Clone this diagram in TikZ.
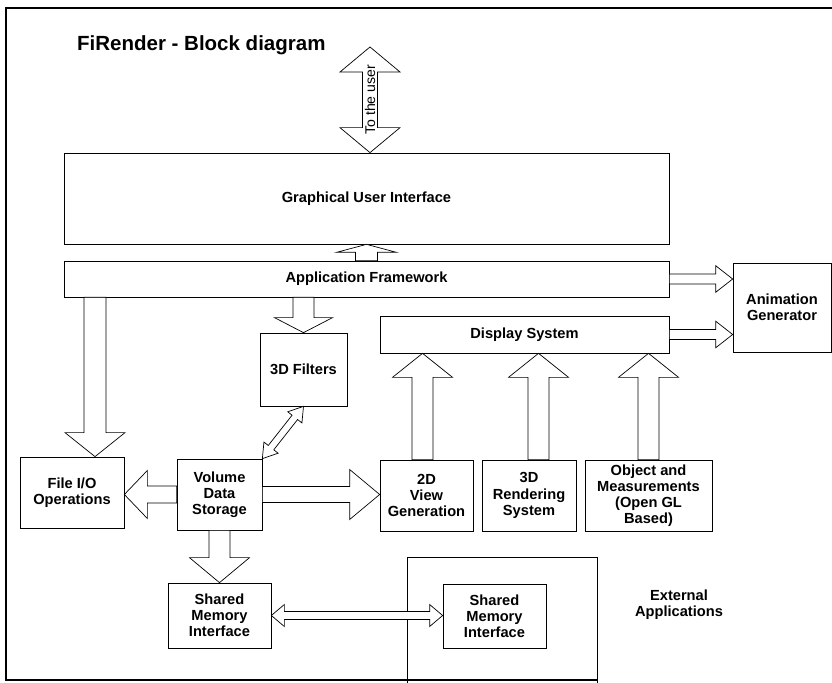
\documentclass[tikz,border=0pt]{standalone}
\usepackage{fontspec}
\setmainfont{Liberation Sans}
\usetikzlibrary{calc}

% hollow block arrow: [opts]{from}{to}{shaft half width}{head half width}{head length}
\newcommand{\blockarrow}[6][]{%
  \coordinate (ba-s) at #2;
  \coordinate (ba-t) at #3;
  \coordinate (ba-c) at ($(ba-t)!#6!(ba-s)$);
  \draw[blk,#1] ($(ba-s)!#4!90:(ba-t)$) -- ($(ba-c)!#4!-90:(ba-s)$)
    -- ($(ba-c)!#5!-90:(ba-s)$) -- (ba-t) -- ($(ba-c)!#5!90:(ba-s)$)
    -- ($(ba-c)!#4!90:(ba-s)$) -- ($(ba-s)!#4!-90:(ba-t)$) -- cycle;
}
% same, with a head at both ends
\newcommand{\dblarrow}[6][]{%
  \coordinate (ba-s) at #2;
  \coordinate (ba-t) at #3;
  \coordinate (ba-a) at ($(ba-s)!#6!(ba-t)$);
  \coordinate (ba-b) at ($(ba-t)!#6!(ba-s)$);
  \draw[blk,#1] (ba-s) -- ($(ba-a)!#5!-90:(ba-t)$) -- ($(ba-a)!#4!-90:(ba-t)$)
    -- ($(ba-b)!#4!90:(ba-s)$) -- ($(ba-b)!#5!90:(ba-s)$) -- (ba-t)
    -- ($(ba-b)!#5!-90:(ba-s)$) -- ($(ba-b)!#4!-90:(ba-s)$)
    -- ($(ba-a)!#4!90:(ba-t)$) -- ($(ba-a)!#5!90:(ba-t)$) -- cycle;
}

\begin{document}
\begin{tikzpicture}[x=0.03cm, y=-0.03cm,
  box/.style={draw, fill=white, line width=0.6pt, align=center, inner sep=0pt,
              font=\bfseries\fontsize{12.5}{13.8}\selectfont},
  blk/.style={draw, fill=white, line width=0.6pt, line join=miter},
  frame/.style={draw, line width=1.2pt},
  heading/.style={anchor=west, font=\bfseries\fontsize{17.5}{20}\selectfont},
  note/.style={align=center, font=\bfseries\fontsize{12.5}{13.8}\selectfont}
]
\useasboundingbox (0,0) rectangle (832,683);
\clip (0,0) rectangle (832,683);

\node[heading] (title) at (73,45) {FiRender - Block diagram};

% blocks
\node[box, minimum width=18.15cm, minimum height=2.73cm] (gui)  at (366.5,198.5) {Graphical User Interface};
\node[box, minimum width=18.15cm, minimum height=1.08cm] (fw)   at (366.5,279)   {Application Framework};
\node[box, minimum width=2.94cm,  minimum height=2.67cm] (anim) at (782,307.5)   {Animation\\Generator};
\node[box, minimum width=8.67cm,  minimum height=1.11cm] (disp) at (524.5,334.5) {Display System};
\node[box, minimum width=2.61cm,  minimum height=2.19cm] (filt) at (303.5,369.5) {3D Filters};
\node[box, minimum width=3.12cm,  minimum height=2.13cm] (fio)  at (72,492.5)    {File I/O\\Operations};
\node[box, minimum width=2.55cm,  minimum height=2.13cm] (vol)  at (219.5,494.5) {Volume\\Data\\Storage};
\node[box, minimum width=2.79cm,  minimum height=2.13cm] (view) at (426.5,495.5) {2D\\View\\Generation};
\node[box, minimum width=2.82cm,  minimum height=2.13cm] (rend) at (529,495.5)   {3D\\Rendering\\System};
\node[box, minimum width=3.81cm,  minimum height=2.13cm] (obj)  at (648.5,495.5) {Object and\\Measurements\\(Open GL\\Based)};
\node[box, fill=none, minimum width=5.7cm, minimum height=4.29cm] (ext) at (502,628.5) {};
\node[box, minimum width=3.09cm,  minimum height=1.95cm] (smi)  at (219.5,615.5) {Shared\\Memory\\Interface};
\node[box, minimum width=3.09cm,  minimum height=1.92cm] (smr)  at (494.5,616)   {Shared\\Memory\\Interface};
\node[note] (extlbl) at (679,605) {External\\Applications};

\draw[frame] (832,8) -- (6,8) -- (6,680) -- (597,680);

% arrow axes
\coordinate (usr) at (370,47);
\coordinate (fioax) at ($(fio.north)+(23,0)$);
\coordinate (viewax) at ($(view.north)+(-4,0)$);
\coordinate (rendax) at ($(rend.north)+(9.5,0)$);

% block arrows
\dblarrow{(usr)}{(gui.north -| usr)}{0.225cm}{0.9cm}{0.75cm}
\node[rotate=90, font=\fontsize{12}{14}\selectfont] (usrtxt) at ($(usr)!0.5!(gui.north -| usr)$) {To the user};
\blockarrow{(fw.north)}{(gui.south)}{0.33cm}{0.9cm}{0.24cm}
\blockarrow{(fw.east)}{(anim.west |- fw.east)}{0.15cm}{0.4cm}{0.51cm}
\blockarrow{(disp.east)}{(anim.west |- disp.east)}{0.15cm}{0.4cm}{0.51cm}
\blockarrow{(fw.south -| filt.north)}{(filt.north)}{0.315cm}{0.87cm}{0.45cm}
\blockarrow{(fw.south -| fioax)}{(fioax)}{0.33cm}{0.9cm}{0.72cm}
\blockarrow{(viewax)}{(disp.south -| viewax)}{0.315cm}{0.9cm}{0.72cm}
\blockarrow{(rendax)}{(disp.south -| rendax)}{0.315cm}{0.9cm}{0.72cm}
\blockarrow{(obj.north)}{(disp.south -| obj.north)}{0.315cm}{0.9cm}{0.72cm}
\dblarrow{(filt.south)}{(vol.north east)}{0.105cm}{0.27cm}{0.42cm}
\blockarrow{(vol.west)}{(fio.east |- vol.west)}{0.255cm}{0.72cm}{0.69cm}
\blockarrow{(vol.east)}{(view.west |- vol.east)}{0.24cm}{0.75cm}{0.9cm}
\blockarrow{(vol.south)}{(smi.north -| vol.south)}{0.315cm}{0.9cm}{0.75cm}
\dblarrow{(smi.east)}{(smr.west |- smi.east)}{0.12cm}{0.33cm}{0.39cm}
\end{tikzpicture}
\end{document}
